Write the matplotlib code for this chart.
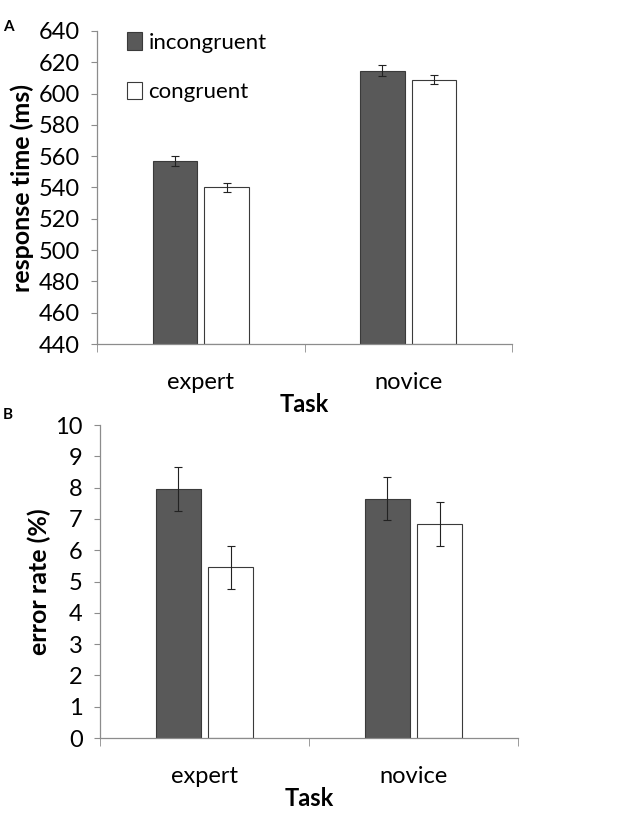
import matplotlib
matplotlib.use("Agg")
import matplotlib.pyplot as plt
import numpy as np
from matplotlib.patches import Patch

plt.rcParams["font.family"] = ["Lato", "DejaVu Sans"]

# --- Данные ------------------------------------------------------------------
tasks = ["expert", "novice"]
conditions = ["incongruent", "congruent"]
rt_incong = [557, 614.5]
rt_incong_err = [3.2, 3.5]
rt_cong = [540, 609]
rt_cong_err = [3.0, 3.0]
err_incong = [7.95, 7.65]
err_incong_err = [0.7, 0.69]
err_cong = [5.45, 6.85]
err_cong_err = [0.69, 0.7]

rt_ticks = list(range(440, 641, 20))
err_ticks = list(range(0, 11))

DARK = "#595959"
EDGE = "#3a3a3a"
AXIS = "#8c8c8c"
W = 0.215
OFF = 0.125
FS = 17


def panel(ax, inc, inc_e, con, con_e, ticks, ylabel):
    """Одна панель: сгруппированные столбцы с погрешностями и оформление в стиле Excel."""
    x = np.arange(len(tasks))
    base = ticks[0]
    # Столбцы растут от нижней границы оси (как в Excel), высота = значение − база.
    ax.bar(x - OFF, np.asarray(inc) - base, W, bottom=base, color=DARK,
           edgecolor=EDGE, lw=0.8, zorder=2)
    ax.bar(x + OFF, np.asarray(con) - base, W, bottom=base, color="white",
           edgecolor=EDGE, lw=0.8, zorder=2)
    ax.errorbar(x - OFF, inc, yerr=inc_e, fmt="none", ecolor="#222222", elinewidth=0.8,
                capsize=3, capthick=0.8, zorder=3)
    ax.errorbar(x + OFF, con, yerr=con_e, fmt="none", ecolor="#222222", elinewidth=0.8,
                capsize=3, capthick=0.8, zorder=3)
    ax.set_xlim(-0.5, 1.5)
    ax.set_ylim(ticks[0], ticks[-1])
    ax.set_yticks(ticks)
    ax.tick_params(axis="y", labelsize=FS, length=4.5, color=AXIS, pad=8)
    # Подписи категорий в центре, короткие штрихи на границах категорий.
    ax.set_xticks(x)
    ax.set_xticklabels(tasks, fontsize=FS)
    ax.tick_params(axis="x", which="major", length=0, pad=20)
    ax.set_xticks([-0.5, 0.5, 1.5], minor=True)
    ax.tick_params(axis="x", which="minor", length=6, color=AXIS, direction="out")
    for s in ("top", "right"):
        ax.spines[s].set_visible(False)
    for s in ("left", "bottom"):
        ax.spines[s].set_color(AXIS)
        ax.spines[s].set_linewidth(0.9)
    ax.set_ylabel(ylabel, fontsize=18, fontweight="bold", labelpad=3)
    ax.set_xlabel("Task", fontsize=FS, fontweight="bold", labelpad=0)


fig = plt.figure(figsize=(6.32, 8.13), dpi=100)
ax1 = fig.add_axes([97 / 632, 1 - 344 / 813, 415 / 632, 313 / 813])
ax2 = fig.add_axes([100 / 632, 1 - 738 / 813, 418 / 632, 313 / 813])

panel(ax1, rt_incong, rt_incong_err, rt_cong, rt_cong_err, rt_ticks, "response time (ms)")
panel(ax2, err_incong, err_incong_err, err_cong, err_cong_err, err_ticks, "error rate (%)")

handles = [Patch(facecolor=DARK, edgecolor=EDGE, lw=0.8),
           Patch(facecolor="white", edgecolor=EDGE, lw=0.8)]
ax1.legend(handles, conditions, loc="upper left", bbox_to_anchor=(0.025, 1.06),
           frameon=False, fontsize=16, handlelength=0.65, handleheight=0.85,
           handletextpad=0.3, labelspacing=1.3)

fig.text(8 / 632, 1 - 27 / 813, "A", fontsize=11, fontweight="bold", ha="center", va="center")
fig.text(8 / 632, 1 - 415 / 813, "B", fontsize=11, fontweight="bold", ha="center", va="center")

fig.savefig("out.png", dpi=100)
